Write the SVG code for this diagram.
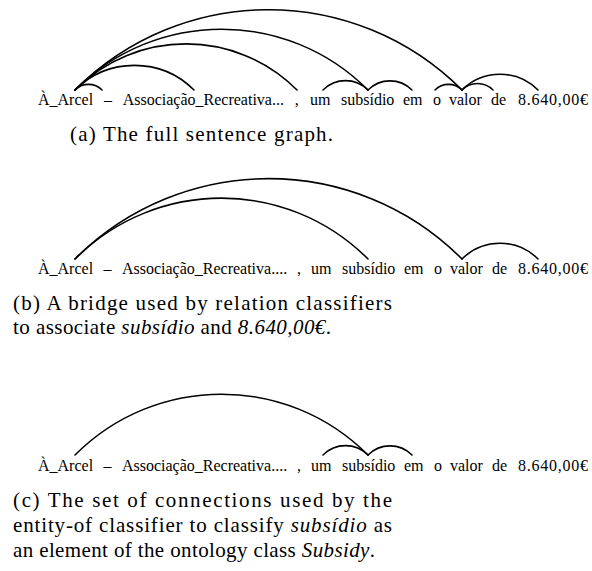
<svg xmlns="http://www.w3.org/2000/svg" width="592" height="571" viewBox="0 0 592 571">
<style>
.w{font-family:'Liberation Serif','Times New Roman',Times,serif;font-size:16px;fill:#000}
.c{font-family:'Liberation Serif','Times New Roman',Times,serif;font-size:21px;fill:#000}
.i{font-style:italic}
.arc{fill:none;stroke:#000;stroke-width:1.6;stroke-linecap:round}
</style>
<rect width="592" height="571" fill="#fff"/>
<g id="panel-a">
<g id="a-words" class="w">
<text x="38" y="105">À_Arcel</text>
<text x="104" y="105">–</text>
<text x="122.7" y="105">Associação_Recreativa...</text>
<text x="294.8" y="105">,</text>
<text x="310" y="105">um</text>
<text x="341" y="105">subsídio</text>
<text x="403" y="105">em</text>
<text x="433" y="105">o</text>
<text x="449" y="105">valor</text>
<text x="491" y="105">de</text>
<text x="518" y="105" textLength="70">8.640,00€</text>
</g>
<g id="a-connectors">
<path class="arc" d="M75,90 C82.5,82.5 94.5,82.5 102,90"/>
<path class="arc" d="M75,90 C107.9,57.1 161.1,57.1 194,90"/>
<path class="arc" d="M75,90 C136.5,28.5 235.5,28.5 297,90"/>
<path class="arc" d="M75,90 C156.1,8.9 286.9,8.9 368,90"/>
<path class="arc" d="M75,90 C182.1,-17.1 354.9,-17.1 462,90"/>
<path class="arc" d="M323,90 C335.5,77.5 355.5,77.5 368,90"/>
<path class="arc" d="M368,90 C380.2,77.8 399.8,77.8 412,90"/>
<path class="arc" d="M435,90 C442.5,82.5 454.5,82.5 462,90"/>
<path class="arc" d="M462,90 C470.6,81.4 484.4,81.4 493,90"/>
<path class="arc" d="M462,90 C483,69 517,69 538,90"/>
</g>
<text id="caption-a" class="c" x="70" y="141" textLength="263">(a) The full sentence graph.</text>
</g>
<g id="panel-b">
<g id="b-words" class="w">
<text x="38" y="274">À_Arcel</text>
<text x="103.5" y="274">–</text>
<text x="121.9" y="274">Associação_Recreativa....</text>
<text x="297" y="274">,</text>
<text x="311" y="274">um</text>
<text x="342" y="274">subsídio</text>
<text x="404" y="274">em</text>
<text x="434" y="274">o</text>
<text x="450" y="274">valor</text>
<text x="492" y="274">de</text>
<text x="518" y="274" textLength="70">8.640,00€</text>
</g>
<g id="b-connectors">
<path class="arc" d="M75,259 C156.1,177.9 286.9,177.9 368,259"/>
<path class="arc" d="M75,259 C182.1,151.9 354.9,151.9 462,259"/>
<path class="arc" d="M462,259 C483,238 517,238 538,259"/>
</g>
<g id="caption-b" class="c">
<text x="13" y="310" textLength="379">(b) A bridge used by relation classifiers</text>
<text x="13" y="334" textLength="318">to associate <tspan class="i">subsídio</tspan> and <tspan class="i">8.640,00€</tspan>.</text>
</g>
</g>
<g id="panel-c">
<g id="c-words" class="w">
<text x="38" y="471">À_Arcel</text>
<text x="103.5" y="471">–</text>
<text x="121.9" y="471">Associação_Recreativa....</text>
<text x="297" y="471">,</text>
<text x="311" y="471">um</text>
<text x="342" y="471">subsídio</text>
<text x="404" y="471">em</text>
<text x="434" y="471">o</text>
<text x="450" y="471">valor</text>
<text x="492" y="471">de</text>
<text x="518" y="471" textLength="70">8.640,00€</text>
</g>
<g id="c-connectors">
<path class="arc" d="M75,455 C156.1,373.9 286.9,373.9 368,455"/>
<path class="arc" d="M323,455 C335.5,442.5 355.5,442.5 368,455"/>
<path class="arc" d="M368,455 C380.2,442.8 399.8,442.8 412,455"/>
</g>
<g id="caption-c" class="c">
<text x="13" y="507" textLength="379">(c) The set of connections used by the</text>
<text x="13" y="532" textLength="379">entity-of classifier to classify <tspan class="i">subsídio</tspan> as</text>
<text x="13" y="557" textLength="362">an element of the ontology class <tspan class="i">Subsidy</tspan>.</text>
</g>
</g>
</svg>
